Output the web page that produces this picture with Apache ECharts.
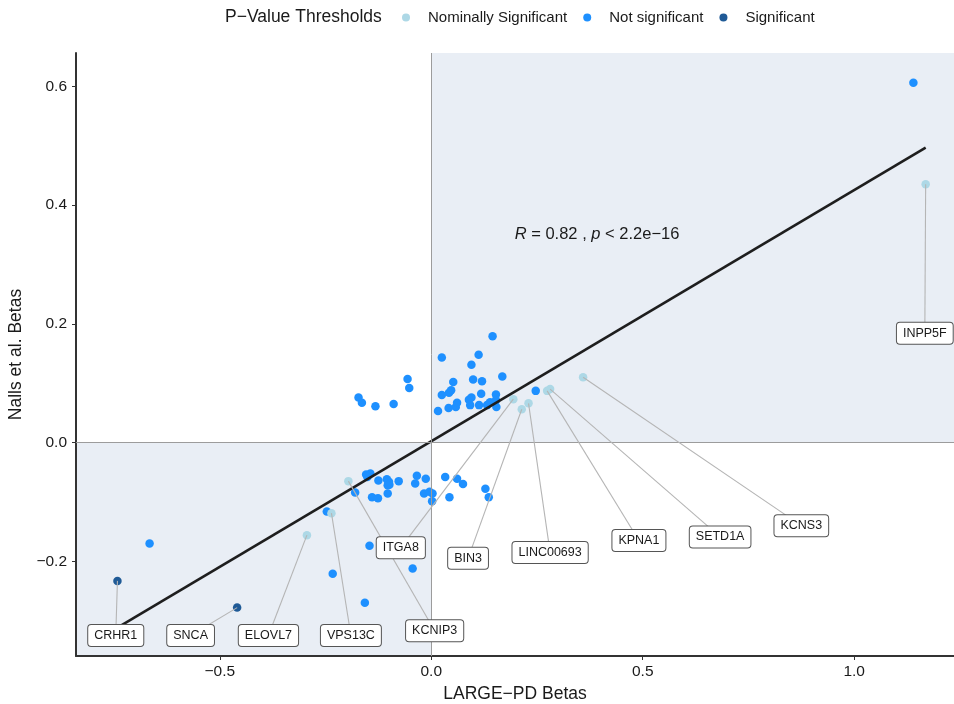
<!DOCTYPE html>
<html>
<head>
<meta charset="utf-8">
<script src="https://cdn.jsdelivr.net/npm/echarts@6/dist/echarts.min.js"></script>
<style>
  html, body { margin: 0; padding: 0; background: #ffffff; }
  #chart { width: 954px; height: 704px; }
</style>
</head>
<body>
<div id="chart"></div>
<script>
// ---- Effect sizes (betas) per locus: LARGE-PD (x) vs Nalls et al. (y) ----
const notSigX = [1.140, 0.145, 0.025, 0.112, 0.095, -0.056, -0.052, -0.172, -0.164, -0.132, -0.089, 0.052, 0.099, 0.120, 0.168, 0.025, 0.042, 0.047, 0.016, 0.041, 0.058, 0.061, 0.089, 0.095, 0.092, 0.118, 0.113, 0.132, 0.139, 0.153, 0.153, 0.154, 0.247,
  -0.154, -0.144, -0.151, -0.125, -0.105, -0.100, -0.099, -0.103, -0.077, -0.034, -0.038, -0.013, -0.180, -0.140, -0.126, -0.103, -0.017, -0.004, 0.003, 0.002, 0.033, 0.061, 0.075, 0.043, 0.128, 0.136, -0.247, -0.146, -0.044, -0.233, -0.157, -0.666];
const notSigY = [0.606, 0.179, 0.143, 0.148, 0.131, 0.107, 0.092, 0.076, 0.067, 0.061, 0.065, 0.102, 0.106, 0.103, 0.111, 0.080, 0.084, 0.088, 0.053, 0.058, 0.060, 0.067, 0.072, 0.076, 0.063, 0.082, 0.063, 0.063, 0.068, 0.081, 0.071, 0.060, 0.087,
  -0.054, -0.052, -0.058, -0.064, -0.062, -0.066, -0.071, -0.072, -0.065, -0.056, -0.069, -0.061, -0.084, -0.092, -0.094, -0.086, -0.086, -0.083, -0.086, -0.099, -0.058, -0.061, -0.070, -0.092, -0.078, -0.092, -0.116, -0.174, -0.212, -0.221, -0.270, -0.170];

const nominalGenes = ['INPP5F', 'KCNS3', 'SETD1A', 'KPNA1', 'LINC00693', 'BIN3', 'ITGA8', 'KCNIP3', 'VPS13C', 'ELOVL7'];
const nominalX = [1.169, 0.359, 0.281, 0.274, 0.230, 0.214, 0.194, -0.196, -0.236, -0.294];
const nominalY = [0.435, 0.110, 0.090, 0.087, 0.066, 0.056, 0.073, -0.065, -0.119, -0.156];

const sigGenes = ['CRHR1', 'SNCA'];
const sigX = [-0.742, -0.459];
const sigY = [-0.233, -0.278];

// Threshold group names (legend order)
const groupNames = ['Nominally Significant', 'Not significant', 'Significant'];

// Tick labels
const xTicks = [-0.5, 0, 0.5, 1.0];
const yTicks = [-0.2, 0, 0.2, 0.4, 0.6];

// Linear fit and correlation summary
const fitSlope = 0.423;
const fitIntercept = 0.002;
const corR = '0.82';
const corP = '2.2e\u221216';

// ---- Layout: axis extents, label box placements (data units) ----
const xMin = -0.84, xMax = 1.236, yMin = -0.3595, yMax = 0.656;
const labelPlaceX = [1.167, 0.875, 0.683, 0.491, 0.281, 0.087, -0.072, 0.008, -0.190, -0.385, -0.746, -0.569];
const labelPlaceY = [0.184, -0.140, -0.159, -0.165, -0.185, -0.195, -0.177, -0.317, -0.325, -0.325, -0.325, -0.325];
const corPlace = [0.392, 0.351];

const FONT = '"Liberation Sans", Arial, Helvetica, sans-serif';
const colors = { nominal: '#ADD8E6', notSig: '#1E90FF', sig: '#1F5A96' };
const INK = '#1a1a1a';

const zip = (xs, ys) => xs.map((x, i) => [x, ys[i]]);
const fmt = v => (v < 0 ? '\u2212' : '') + Math.abs(v).toFixed(1);

// Labelled loci: point + label placement
const labelGenes = nominalGenes.concat(sigGenes);
const labelPtX = nominalX.concat(sigX);
const labelPtY = nominalY.concat(sigY);
const segmentData = labelGenes.map((g, i) => [labelPtX[i], labelPtY[i], labelPlaceX[i], labelPlaceY[i]]);
const boxData = labelGenes.map((g, i) => ({ name: g, value: [labelPlaceX[i], labelPlaceY[i]] }));

// Fit line spans the range of plotted x values
const allX = notSigX.concat(nominalX, sigX);
const fitX0 = Math.min(...allX), fitX1 = Math.max(...allX);
const fitData = [[fitX0, fitSlope * fitX0 + fitIntercept], [fitX1, fitSlope * fitX1 + fitIntercept]];

const chart = echarts.init(document.getElementById('chart'), null, { renderer: 'canvas' });

const option = {
  animation: false,
  textStyle: { fontFamily: FONT },
  title: {
    text: 'P\u2212Value Thresholds',
    left: 225, top: 8, padding: 0,
    textStyle: { fontFamily: FONT, fontSize: 17.5, fontWeight: 'normal', color: INK }
  },
  legend: {
    data: groupNames,
    left: 402, top: 10, padding: 0,
    icon: 'circle',
    itemWidth: 8, itemHeight: 8, itemGap: 16,
    textStyle: { fontFamily: FONT, fontSize: 15, color: INK, padding: [0, 0, 0, 13] }
  },
  grid: { left: 76, right: 0, top: 53, bottom: 48, containLabel: false, outerBoundsMode: 'none' },
  xAxis: {
    type: 'value', min: xMin, max: xMax,
    name: 'LARGE\u2212PD Betas', nameLocation: 'middle', nameGap: 25,
    nameTextStyle: { fontFamily: FONT, fontSize: 17.5, color: INK },
    splitLine: { show: false },
    axisLine: { show: true, onZero: false, lineStyle: { color: '#333', width: 2 } },
    axisTick: { show: true, length: 4, customValues: xTicks, lineStyle: { color: '#333', width: 1 } },
    axisLabel: { customValues: xTicks, formatter: fmt, margin: 8, fontSize: 15.5, color: INK, fontFamily: FONT }
  },
  yAxis: {
    type: 'value', min: yMin, max: yMax,
    name: 'Nalls et al. Betas', nameLocation: 'middle', nameGap: 47,
    nameTextStyle: { fontFamily: FONT, fontSize: 17.5, color: INK },
    splitLine: { show: false },
    axisLine: { show: true, onZero: false, lineStyle: { color: '#333', width: 2 } },
    axisTick: { show: true, length: 4, customValues: yTicks, lineStyle: { color: '#333', width: 1 } },
    axisLabel: { customValues: yTicks, formatter: fmt, margin: 9, fontSize: 15.5, color: INK, fontFamily: FONT }
  },
  series: [
    {
      // concordant quadrants
      type: 'custom', silent: true, z: 0,
      data: [[0, 0, xMax, yMax], [xMin, yMin, 0, 0]],
      renderItem: (params, api) => {
        const a = api.coord([api.value(0), api.value(1)]);
        const b = api.coord([api.value(2), api.value(3)]);
        return {
          type: 'rect',
          shape: { x: Math.min(a[0], b[0]), y: Math.min(a[1], b[1]), width: Math.abs(b[0] - a[0]), height: Math.abs(b[1] - a[1]) },
          style: { fill: '#E9EEF5' }
        };
      },
      markLine: {
        silent: true, symbol: 'none', label: { show: false },
        lineStyle: { color: '#9c9c9c', width: 1, type: 'solid' },
        data: [{ xAxis: 0 }, { yAxis: 0 }]
      }
    },
    {
      name: groupNames[1], type: 'scatter', z: 2,
      symbolSize: 8.5, itemStyle: { color: colors.notSig, opacity: 1 },
      data: zip(notSigX, notSigY)
    },
    {
      name: groupNames[0], type: 'scatter', z: 3,
      symbolSize: 8.5, itemStyle: { color: colors.nominal, opacity: 1 },
      data: zip(nominalX, nominalY)
    },
    {
      name: groupNames[2], type: 'scatter', z: 3,
      symbolSize: 8.5, itemStyle: { color: colors.sig, opacity: 1 },
      data: zip(sigX, sigY)
    },
    {
      type: 'line', z: 4, silent: true, symbol: 'none',
      lineStyle: { color: '#1e1e1e', width: 2.6 },
      data: fitData
    },
    {
      // connectors from loci to their labels
      type: 'custom', silent: true, z: 5,
      data: segmentData,
      renderItem: (params, api) => {
        const p = api.coord([api.value(0), api.value(1)]);
        const l = api.coord([api.value(2), api.value(3)]);
        return {
          type: 'line',
          shape: { x1: p[0], y1: p[1], x2: l[0], y2: l[1] },
          style: { stroke: '#b5b5b5', lineWidth: 1.1 }
        };
      }
    },
    {
      // gene label boxes
      type: 'custom', silent: true, z: 6,
      data: boxData,
      renderItem: (params, api) => {
        const c = api.coord([api.value(0), api.value(1)]);
        return {
          type: 'text', x: c[0], y: c[1],
          style: {
            text: labelGenes[params.dataIndex],
            fontFamily: FONT, fontSize: 12.5, fill: INK,
            align: 'center', verticalAlign: 'middle',
            backgroundColor: '#ffffff', borderColor: '#555', borderWidth: 1, borderRadius: 3,
            padding: [4, 6]
          }
        };
      }
    },
    {
      // correlation annotation
      type: 'custom', silent: true, z: 6,
      data: [corPlace],
      renderItem: (params, api) => {
        const c = api.coord([api.value(0), api.value(1)]);
        return {
          type: 'text', x: c[0], y: c[1],
          style: {
            text: '{i|R} = ' + corR + ' , {i|p} < ' + corP,
            rich: { i: { fontStyle: 'italic', fontFamily: FONT, fontSize: 16.5, fill: INK } },
            fontFamily: FONT, fontSize: 16.5, fill: INK,
            align: 'center', verticalAlign: 'middle'
          }
        };
      }
    }
  ]
};

chart.setOption(option);
</script>
</body>
</html>
